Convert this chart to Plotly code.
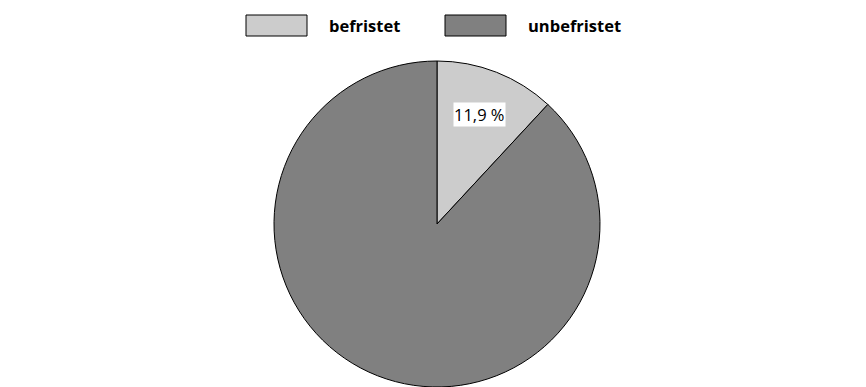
import math
import plotly.graph_objects as go

labels = ["befristet", "unbefristet"]
values = [11.9, 88.1]
colors = ["#cccccc", "#808080"]
label_text = ["11,9 %", ""]

W, H = 866, 387
OFF = 8  # page body margin around the plot div
cx, cy, r = 437 - OFF, 224 - OFF, 163

fig = go.Figure(go.Pie(
    labels=labels,
    values=values,
    sort=False,
    direction="clockwise",
    rotation=0,
    marker=dict(colors=colors, line=dict(color="#000000", width=1)),
    textinfo="none",
    hoverinfo="label+percent",
    showlegend=False,
    domain=dict(x=[(cx - r) / W, (cx + r) / W], y=[(H - cy - r) / H, (H - cy + r) / H]),
))

# slice label in a white box, on the slice's middle angle
total = sum(values)
start = 0
for v, t in zip(values, label_text):
    mid = (start + v / 2) / total * 2 * math.pi
    start += v
    if not t:
        continue
    px_ = cx + 0.72 * r * math.sin(mid)
    py_ = cy - 0.72 * r * math.cos(mid)
    fig.add_annotation(x=px_ / W, y=1 - py_ / H, xref="paper", yref="paper",
                       xanchor="center", yanchor="middle",
                       text=t, showarrow=False, bgcolor="#ffffff", borderpad=0,
                       font=dict(family="Open Sans", size=16.5, color="#000000"))

# legend with wide rectangular swatches
legend_x = [246 - OFF, 445 - OFF]
ly0, ly1 = 15 - OFF, 36 - OFF
for x0, lab, col in zip(legend_x, labels, colors):
    fig.add_shape(type="rect", xref="paper", yref="paper",
                  x0=x0 / W, x1=(x0 + 61) / W, y0=1 - ly1 / H, y1=1 - ly0 / H,
                  fillcolor=col, line=dict(color="#000000", width=1))
    fig.add_annotation(x=(x0 + 81) / W, y=1 - (ly0 + ly1) / 2 / H, xref="paper", yref="paper",
                       text="<b>" + lab + "</b>", showarrow=False,
                       xanchor="left", yanchor="middle",
                       font=dict(family="Open Sans", size=16.5, color="#000000"))

fig.update_layout(width=W, height=H, margin=dict(l=0, r=0, t=0, b=0),
                  paper_bgcolor="#ffffff", plot_bgcolor="#ffffff")
fig.write_html("out.html")
